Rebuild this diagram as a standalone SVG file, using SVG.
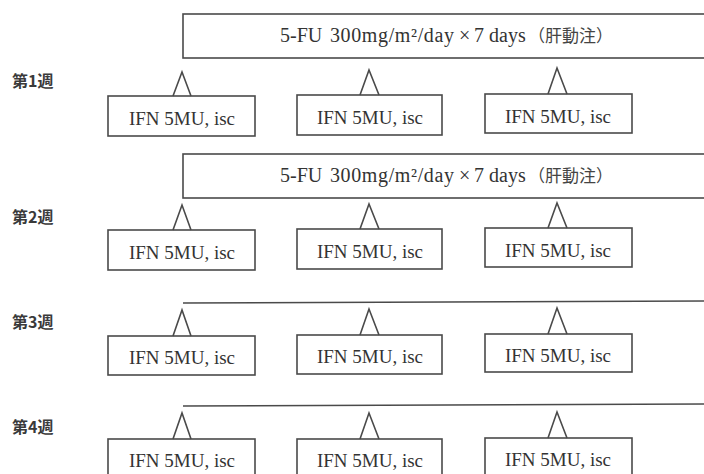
<svg xmlns="http://www.w3.org/2000/svg" width="704" height="474" viewBox="0 0 704 474">
<style>
.bx{fill:#fff;stroke:#4a4a4a;stroke-width:1.6}
.ln{fill:none;stroke:#4a4a4a;stroke-width:1.6}
.t{font-family:"Liberation Serif","Noto Sans CJK JP",serif;font-size:20px;fill:#333}
.c{font-family:"Noto Sans CJK JP",sans-serif;font-size:17px;fill:#444}
.wk{font-family:"Noto Sans CJK JP","Liberation Serif",sans-serif;font-size:16px;font-weight:bold;fill:#3a3a3a}
.ifn{font-family:"Liberation Serif",serif;font-size:19px;fill:#333;text-anchor:middle}
</style>
<rect width="704" height="474" fill="#fff"/>

<g id="week-labels">
<text id="w1" class="wk" x="12" y="87">第1週</text>
<text id="w2" class="wk" x="12" y="223">第2週</text>
<text id="w3" class="wk" x="12" y="328">第3週</text>
<text id="w4" class="wk" x="12" y="433">第4週</text>
</g>

<g id="fu1">
<rect class="bx" x="183" y="14" width="530" height="44"/>
<text class="t" y="42"><tspan x="280">5-FU</tspan><tspan x="330" textLength="124">300mg/m²/day</tspan><tspan x="459">×</tspan><tspan x="474">7 days</tspan><tspan class="c" x="528">（肝動注）</tspan></text>
</g>
<g id="fu2">
<rect class="bx" x="183" y="154" width="530" height="44"/>
<text class="t" y="182"><tspan x="280">5-FU</tspan><tspan x="330" textLength="124">300mg/m²/day</tspan><tspan x="459">×</tspan><tspan x="474">7 days</tspan><tspan class="c" x="528">（肝動注）</tspan></text>
</g>
<g id="bar3"><line class="ln" x1="183" y1="303" x2="704" y2="301"/></g>
<g id="bar4"><line class="ln" x1="183" y1="406" x2="704" y2="404"/></g>

<g id="w1a"><rect class="bx" x="108" y="96" width="147" height="40"/><text class="ifn" x="182" y="125">IFN 5MU, isc</text></g>
<g id="w1b"><rect class="bx" x="297" y="95" width="145" height="40"/><text class="ifn" x="370" y="124">IFN 5MU, isc</text></g>
<g id="w1c"><rect class="bx" x="485" y="94" width="147" height="39"/><text class="ifn" x="558" y="123">IFN 5MU, isc</text></g>

<g id="w2a"><rect class="bx" x="108" y="230" width="147" height="40"/><text class="ifn" x="182" y="259">IFN 5MU, isc</text></g>
<g id="w2b"><rect class="bx" x="297" y="229" width="145" height="40"/><text class="ifn" x="370" y="258">IFN 5MU, isc</text></g>
<g id="w2c"><rect class="bx" x="485" y="228" width="147" height="39"/><text class="ifn" x="558" y="257">IFN 5MU, isc</text></g>

<g id="w3a"><rect class="bx" x="108" y="336" width="147" height="39"/><text class="ifn" x="182" y="364">IFN 5MU, isc</text></g>
<g id="w3b"><rect class="bx" x="297" y="335" width="145" height="39"/><text class="ifn" x="370" y="363">IFN 5MU, isc</text></g>
<g id="w3c"><rect class="bx" x="485" y="334" width="147" height="38"/><text class="ifn" x="558" y="362">IFN 5MU, isc</text></g>

<g id="w4a"><rect class="bx" x="108" y="439" width="147" height="40"/><text class="ifn" x="182" y="467">IFN 5MU, isc</text></g>
<g id="w4b"><rect class="bx" x="297" y="439" width="145" height="40"/><text class="ifn" x="370" y="467">IFN 5MU, isc</text></g>
<g id="w4c"><rect class="bx" x="485" y="438" width="147" height="40"/><text class="ifn" x="558" y="466">IFN 5MU, isc</text></g>

<g id="connectors">
<polyline class="ln" points="173,96 182,72 191,96"/>
<polyline class="ln" points="360,95 369,70 379,95"/>
<polyline class="ln" points="548,94 557,68 567,94"/>
<polyline class="ln" points="173,230 182,205 191,230"/>
<polyline class="ln" points="360,229 369,204 379,229"/>
<polyline class="ln" points="548,228 557,203 567,228"/>
<polyline class="ln" points="173,336 182,310 191,336"/>
<polyline class="ln" points="360,335 369,309 379,335"/>
<polyline class="ln" points="548,334 557,308 567,334"/>
<polyline class="ln" points="173,439 182,413 191,439"/>
<polyline class="ln" points="360,439 369,413 379,439"/>
<polyline class="ln" points="548,438 557,412 567,438"/>
</g>
</svg>
